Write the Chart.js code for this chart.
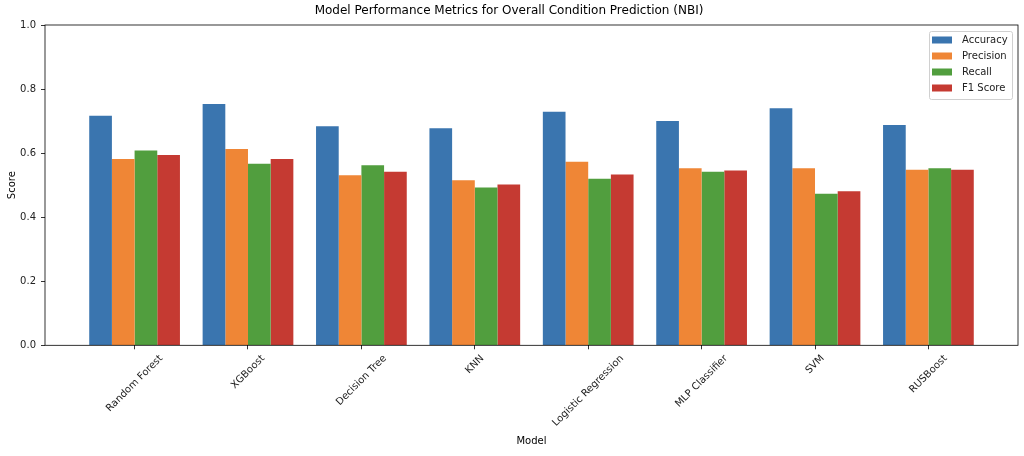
<!DOCTYPE html>
<html>
<head>
<meta charset="utf-8">
<script src="https://cdn.jsdelivr.net/npm/chart.js@4"></script>
<style>
  html, body { margin: 0; padding: 0; background: #fff; }
  #wrap { width: 1024px; height: 456px; }
</style>
</head>
<body>
<div id="wrap"><canvas id="chart"></canvas></div>
<script>
const models = ["Random Forest", "XGBoost", "Decision Tree", "KNN", "Logistic Regression", "MLP Classifier", "SVM", "RUSBoost"];
const accuracy = [0.717, 0.753, 0.684, 0.678, 0.729, 0.700, 0.740, 0.688];
const precision = [0.582, 0.613, 0.531, 0.515, 0.573, 0.553, 0.553, 0.548];
const recall = [0.608, 0.567, 0.562, 0.493, 0.520, 0.542, 0.473, 0.553];
const f1 = [0.594, 0.582, 0.542, 0.502, 0.533, 0.546, 0.481, 0.548];
const yTicks = [0, 0.2, 0.4, 0.6, 0.8, 1.0];

// group centres sit at i + 0.3 (bars at i, i+0.2, i+0.4, i+0.6)
const xPos = models.map((m, i) => i + 0.3);
const FONT = "'DejaVu Sans', sans-serif";

function series(label, vals, color) {
  return {
    label: label,
    data: vals.map((v, i) => ({ x: xPos[i], y: v })),
    backgroundColor: color,
    borderWidth: 0,
    categoryPercentage: 0.8,
    barPercentage: 1.0,
  };
}

// frame, rotated x labels and legend
const extras = {
  id: "extras",
  afterDraw(chart) {
    const ctx = chart.ctx;
    const a = chart.chartArea;
    const xs = chart.scales.x;
    ctx.save();
    ctx.strokeStyle = "#000";
    ctx.lineWidth = 0.8;
    ctx.strokeRect(a.left, a.top, a.right - a.left, a.bottom - a.top);

    ctx.font = "10px " + FONT;
    ctx.fillStyle = "#222";
    ctx.textAlign = "center";
    ctx.textBaseline = "middle";
    models.forEach((m, i) => {
      const w = ctx.measureText(m).width;
      const h = 10;
      const half = (w + h) * Math.SQRT1_2 / 2;
      const cx = xs.getPixelForValue(xPos[i]);
      const cy = a.bottom + 8 + half;
      ctx.save();
      ctx.translate(cx, cy);
      ctx.rotate(-Math.PI / 4);
      ctx.fillText(m, 0, 0);
      ctx.restore();
    });

    // legend
    const lx = 929, ly = 31, lw = 83, lh = 68;
    ctx.fillStyle = "rgba(255,255,255,0.8)";
    ctx.strokeStyle = "#d0d0d0";
    ctx.lineWidth = 1;
    ctx.beginPath();
    ctx.roundRect(lx + 0.5, ly + 0.5, lw, lh, 2);
    ctx.fill();
    ctx.stroke();
    ctx.textAlign = "left";
    chart.data.datasets.forEach((ds, i) => {
      const y = ly + 8.5 + i * 16;
      ctx.fillStyle = ds.backgroundColor;
      ctx.fillRect(lx + 3, y - 3, 20, 7);
      ctx.fillStyle = "#222";
      ctx.fillText(ds.label, lx + 33, y + 0.5);
    });
    ctx.restore();
  },
};

new Chart(document.getElementById("chart"), {
  type: "bar",
  data: {
    datasets: [
      series("Accuracy", accuracy, "#3a75af"),
      series("Precision", precision, "#ef8636"),
      series("Recall", recall, "#519e3e"),
      series("F1 Score", f1, "#c53a32"),
    ],
  },
  options: {
    responsive: true,
    maintainAspectRatio: false,
    animation: false,
    layout: { padding: { top: 0, right: 6, bottom: 0, left: 0 } },
    plugins: {
      legend: { display: false },
      tooltip: { enabled: false },
      title: {
        display: true,
        text: "Model Performance Metrics for Overall Condition Prediction (NBI)",
        color: "#000",
        font: { family: FONT, size: 12, weight: "normal" },
        padding: { top: 4, bottom: 6.6 },
      },
    },
    scales: {
      x: {
        type: "linear",
        min: -0.49,
        max: 8.09,
        offset: false,
        grid: { display: true, offset: false, drawOnChartArea: false, drawTicks: true, tickLength: 4, color: "#000", lineWidth: 0.8 },
        border: { display: false },
        afterBuildTicks: (s) => { s.ticks = xPos.map((v) => ({ value: v })); },
        ticks: { display: false },
        afterFit: (s) => { s.height = 110.7; },
        title: {
          display: true,
          text: "Model",
          color: "#000",
          font: { family: FONT, size: 10 },
          padding: { top: 0, bottom: 9 },
        },
      },
      y: {
        min: 0,
        max: 1,
        grid: { display: true, drawOnChartArea: false, drawTicks: true, tickLength: 4, color: "#000", lineWidth: 0.8 },
        border: { display: false },
        afterBuildTicks: (s) => { s.ticks = yTicks.map((v) => ({ value: v })); },
        ticks: {
          color: "#222",
          padding: 5,
          font: { family: FONT, size: 10 },
          callback: (v) => v.toFixed(1),
        },
        afterFit: (s) => { s.width = 45; },
        title: {
          display: true,
          text: "Score",
          color: "#000",
          font: { family: FONT, size: 10 },
          padding: { top: 6, bottom: 0 },
        },
      },
    },
  },
  plugins: [extras],
});
</script>
</body>
</html>
